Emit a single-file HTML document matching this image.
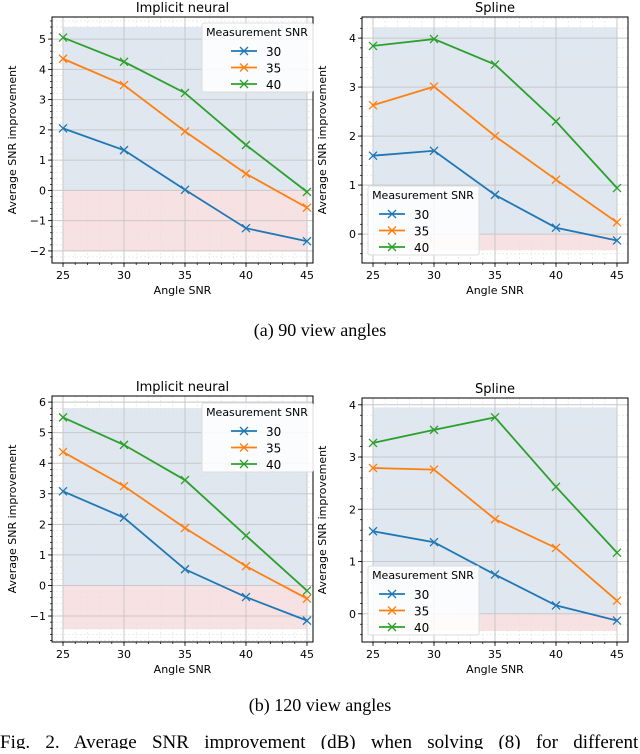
<!DOCTYPE html>
<html><head><meta charset="utf-8"><style>
body{margin:0;background:#fff;width:640px;height:749px;overflow:hidden}
svg text{font-family:"DejaVu Sans","Liberation Sans",sans-serif}
</style></head><body>
<svg id="fig" width="640" height="749" viewBox="0 0 640 749" xmlns="http://www.w3.org/2000/svg">
<text x="320" y="336" text-anchor="middle" font-size="18" style="font-family:'Liberation Serif',serif">(a) 90 view angles</text>
<text x="320" y="711" text-anchor="middle" font-size="18" style="font-family:'Liberation Serif',serif">(b) 120 view angles</text>
<text x="0" y="748" font-size="19" style="font-family:'Liberation Serif',serif;word-spacing:10.5px">Fig. 2.  Average SNR improvement (dB) when solving (8) for different</text>
</svg>
<script>
const categories=[25,30,35,40,45];
const seriesNames=["30","35","40"];
const colors=["#1f77b4","#ff7f0e","#2ca02c"];
const tl30=[2.05,1.33,0.02,-1.25,-1.68],tl35=[4.35,3.48,1.95,0.55,-0.57],tl40=[5.05,4.25,3.22,1.5,-0.05];
const tr30=[1.6,1.7,0.8,0.13,-0.13],tr35=[2.63,3.01,2.0,1.11,0.24],tr40=[3.84,3.98,3.46,2.3,0.94];
const bl30=[3.08,2.22,0.53,-0.38,-1.15],bl35=[4.37,3.25,1.88,0.63,-0.43],bl40=[5.5,4.6,3.45,1.63,-0.17];
const br30=[1.58,1.37,0.75,0.16,-0.13],br35=[2.79,2.76,1.81,1.26,0.25],br40=[3.27,3.52,3.76,2.43,1.17];
const tlTicks=[-2,-1,0,1,2,3,4,5],trTicks=[0,1,2,3,4],blTicks=[-1,0,1,2,3,4,5,6],brTicks=[0,1,2,3,4];
const NS="http://www.w3.org/2000/svg";
const svg=document.getElementById('fig');
function mk(tag,attrs,parent){const e=document.createElementNS(NS,tag);for(const k in attrs)e.setAttribute(k,attrs[k]);(parent||svg).appendChild(e);return e;}
function panel(o){
 const g=mk('g',{});
 
 
 const X=v=>o.x0+(v-25)/20*(o.x1-o.x0);
 const Y=v=>o.top+(o.ymax-v)/(o.ymax-o.ymin)*(o.bot-o.top);
 const sb=mk('rect',{x:X(25),y:Y(o.blueTop),width:X(45)-X(25),height:Y(0)-Y(o.blueTop),fill:'#dfe7f1'},g);
 
 
 const sr=mk('rect',{x:X(25),y:Y(0),width:X(45)-X(25),height:Y(o.redBot)-Y(0),fill:'#f8e1e3'},g);
 
 
 for(let v=24;v<=46;v+=1){if(v%5===0)continue;const x=X(v);if(x<o.L||x>o.R)continue;mk('line',{x1:x,x2:x,y1:o.top,y2:o.bot,stroke:'#e4e4e4','stroke-width':0.7,'stroke-dasharray':'2,2'},g);}
 for(let v=Math.ceil(o.ymin/o.minor)*o.minor;v<=o.ymax;v+=o.minor){const y=Y(v);mk('line',{x1:o.L,x2:o.R,y1:y,y2:y,stroke:'#e4e4e4','stroke-width':0.7,'stroke-dasharray':'2,2'},g);
   mk('line',{x1:o.L-2,x2:o.L,y1:y,y2:y,stroke:'#000','stroke-width':0.7},g);}
 for(let v=24;v<=46;v+=1){const x=X(v);if(x<o.L||x>o.R)continue;mk('line',{x1:x,x2:x,y1:o.bot,y2:o.bot+2,stroke:'#000','stroke-width':0.7},g);}
 categories.forEach(c=>{const x=X(c);mk('line',{x1:x,x2:x,y1:o.top,y2:o.bot,stroke:'#c8c8c8','stroke-width':1},g);
  mk('line',{x1:x,x2:x,y1:o.bot,y2:o.bot+4,stroke:'#000','stroke-width':0.8},g);
  const t=mk('text',{x:x,y:o.bot+16,'text-anchor':'middle','font-size':11},g);t.textContent=c;
  });
 o.ticks.forEach(v=>{const y=Y(v);mk('line',{x1:o.L,x2:o.R,y1:y,y2:y,stroke:'#c8c8c8','stroke-width':1},g);
  mk('line',{x1:o.L-4,x2:o.L,y1:y,y2:y,stroke:'#000','stroke-width':0.8},g);
  const t=mk('text',{x:o.L-6,y:y+4,'text-anchor':'end','font-size':11},g);t.textContent=v<0?'\u2212'+(-v):v;
  });
 const fr=mk('rect',{x:o.L,y:o.top,width:o.R-o.L,height:o.bot-o.top,fill:'none',stroke:'#000','stroke-width':1},g);
 
 o.series.forEach((s,i)=>{
  const p=mk('polyline',{points:s.map((v,j)=>X(categories[j])+','+Y(v)).join(' '),fill:'none',stroke:colors[i],'stroke-width':1.8},g);
  
  s.forEach((v,j)=>{const cx=X(categories[j]),cy=Y(v);
   const m=mk('path',{d:`M${cx-4},${cy-4}L${cx+4},${cy+4}M${cx-4},${cy+4}L${cx+4},${cy-4}`,stroke:colors[i],'stroke-width':1.3},g);
   });
 });
 const lg=mk('g',{},g);
 
 mk('rect',{x:o.lx,y:o.ly,width:111,height:69,rx:2,fill:'#fff','fill-opacity':0.85,stroke:'#ddd'},lg);
 const lt=mk('text',{x:o.lx+55,y:o.ly+13,'text-anchor':'middle','font-size':11},lg);lt.textContent='Measurement SNR';
 
 seriesNames.forEach((n,i)=>{const y=o.ly+28+i*16.5,x=o.lx+(o.legLeft?11:29);
  const le=mk('g',{},lg);
  
  
  mk('line',{x1:x,x2:x+26,y1:y,y2:y,stroke:colors[i],'stroke-width':1.8},le);
  mk('path',{d:`M${x+9},${y-4}L${x+17},${y+4}M${x+9},${y+4}L${x+17},${y-4}`,stroke:colors[i],'stroke-width':1.3},le);
  const t=mk('text',{x:x+35,y:y+5,'font-size':12},le);t.textContent=n;});
 const ti=mk('text',{x:(o.L+o.R)/2,y:o.top-5,'text-anchor':'middle','font-size':13},g);ti.textContent=o.title;
 
 const xl=mk('text',{x:(o.L+o.R)/2,y:o.bot+31,'text-anchor':'middle','font-size':11},g);xl.textContent='Angle SNR';
 
 const cy=(o.top+o.bot)/2;
 const yl=mk('text',{x:o.L-36,y:cy,'text-anchor':'middle','font-size':11,transform:`rotate(-90 ${o.L-36} ${cy})`},g);yl.textContent='Average SNR improvement';
 
}
panel({name:'chart-90-implicit-neural',title:'Implicit neural',L:52,R:313,top:17,bot:263,x0:63,x1:307,ymin:-2.4,ymax:5.73,ticks:tlTicks,minor:0.2,blueTop:5.4,redBot:-2,series:[tl30,tl35,tl40],lx:202,ly:23});
panel({name:'chart-90-spline',title:'Spline',L:362,R:628,top:17,bot:263,x0:373,x1:617,ymin:-0.59,ymax:4.43,ticks:trTicks,minor:0.2,blueTop:4.22,redBot:-0.33,series:[tr30,tr35,tr40],lx:368,ly:186,legLeft:true});
panel({name:'chart-120-implicit-neural',title:'Implicit neural',L:52,R:313,top:396,bot:642,x0:63,x1:307,ymin:-1.85,ymax:6.2,ticks:blTicks,minor:0.2,blueTop:5.8,redBot:-1.43,series:[bl30,bl35,bl40],lx:202,ly:403});
panel({name:'chart-120-spline',title:'Spline',L:362,R:628,top:398,bot:642,x0:373,x1:617,ymin:-0.54,ymax:4.13,ticks:brTicks,minor:0.2,blueTop:3.95,redBot:-0.33,series:[br30,br35,br40],lx:368,ly:566,legLeft:true});
</script>
</body></html>
